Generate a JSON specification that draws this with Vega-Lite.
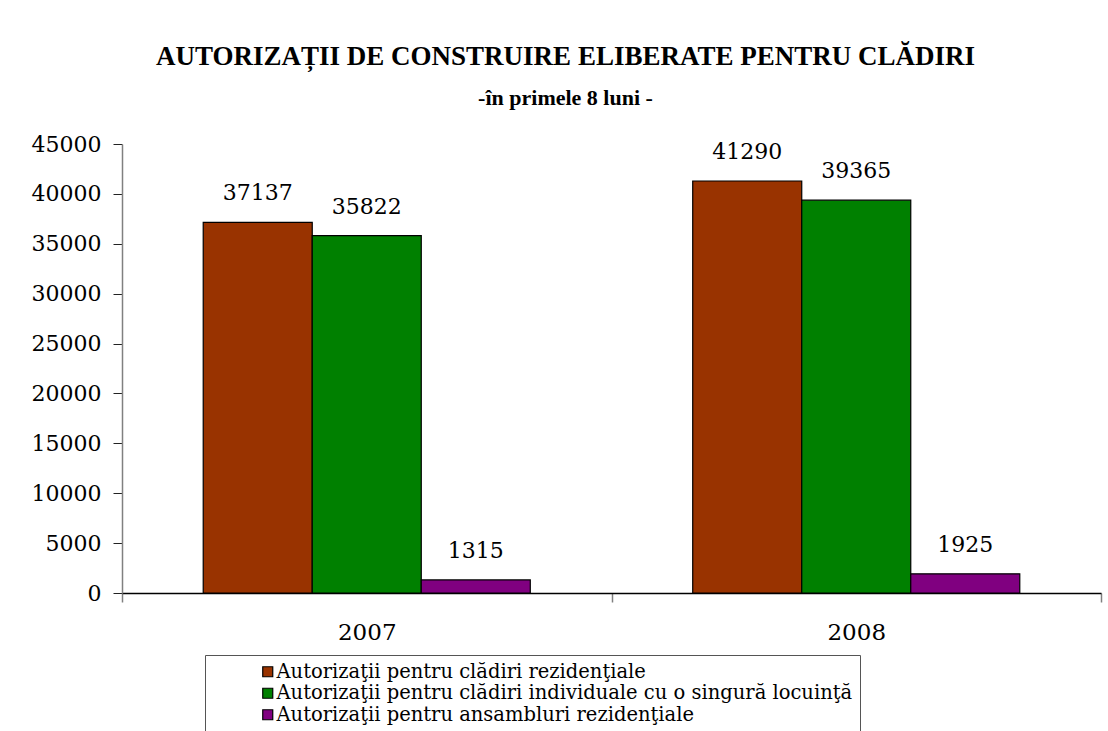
{
  "$schema": "https://vega.github.io/schema/vega-lite/v6.json",
  "width": 979,
  "height": 449,
  "autosize": {"type": "none"},
  "padding": {"left": 122, "top": 144, "right": 7, "bottom": 138},
  "background": "white",
  "config": {
    "view": {"stroke": null},
    "font": "DejaVu Serif"
  },
  "title": {
    "text": "AUTORIZAȚII DE CONSTRUIRE ELIBERATE PENTRU CLĂDIRI",
    "subtitle": "-în primele 8 luni -",
    "anchor": "middle",
    "frame": "group",
    "dx": -46,
    "offset": 23,
    "font": "Liberation Serif",
    "fontSize": 27,
    "fontWeight": "bold",
    "color": "black",
    "subtitleFont": "Liberation Serif",
    "subtitleFontSize": 22,
    "subtitleFontWeight": "bold",
    "subtitleColor": "black",
    "subtitlePadding": 17
  },
  "data": {
    "values": [
      {"an": "2007", "serie": "Autorizaţii pentru clădiri rezidenţiale", "valoare": 37137},
      {"an": "2007", "serie": "Autorizaţii pentru clădiri individuale cu o singură locuinţă", "valoare": 35822},
      {"an": "2007", "serie": "Autorizaţii pentru ansambluri rezidenţiale", "valoare": 1315},
      {"an": "2008", "serie": "Autorizaţii pentru clădiri rezidenţiale", "valoare": 41290},
      {"an": "2008", "serie": "Autorizaţii pentru clădiri individuale cu o singură locuinţă", "valoare": 39365},
      {"an": "2008", "serie": "Autorizaţii pentru ansambluri rezidenţiale", "valoare": 1925}
    ]
  },
  "encoding": {
    "x": {
      "field": "an", "type": "nominal",
      "scale": {"paddingInner": 0, "paddingOuter": 0},
      "axis": {
        "title": null, "labelAngle": 0, "tickBand": "extent",
        "domainColor": "black", "domainWidth": 1.5,
        "tickColor": "#808080", "tickSize": 9, "tickWidth": 1.5,
        "labelFont": "DejaVu Serif", "labelFontSize": 23, "labelColor": "black",
        "labelPadding": 19
      }
    },
    "xOffset": {
      "field": "serie", "type": "nominal",
      "sort": ["Autorizaţii pentru clădiri rezidenţiale", "Autorizaţii pentru clădiri individuale cu o singură locuinţă", "Autorizaţii pentru ansambluri rezidenţiale"],
      "scale": {"paddingInner": 0, "paddingOuter": 0.745}
    },
    "y": {
      "field": "valoare", "type": "quantitative",
      "scale": {"domain": [0, 45000], "nice": false},
      "axis": {
        "title": null, "values": [0,5000,10000,15000,20000,25000,30000,35000,40000,45000],
        "grid": false, "domainColor": "#808080", "domainWidth": 1.5,
        "tickColor": "#222222", "tickSize": 9, "tickWidth": 1,
        "labelFont": "DejaVu Serif", "labelFontSize": 22, "labelColor": "black",
        "labelPadding": 12, "format": "d"
      }
    }
  },
  "layer": [
    {
      "mark": {"type": "bar", "stroke": "black", "strokeWidth": 1.2},
      "encoding": {
        "color": {
          "field": "serie", "type": "nominal",
          "scale": {
            "domain": ["Autorizaţii pentru clădiri rezidenţiale", "Autorizaţii pentru clădiri individuale cu o singură locuinţă", "Autorizaţii pentru ansambluri rezidenţiale"],
            "range": ["#993300", "#008000", "#800080"]
          },
          "legend": {
            "title": null,
            "orient": "none",
            "legendX": 83,
            "legendY": 511,
            "direction": "vertical",
            "strokeColor": "#555555",
            "fillColor": "white",
            "padding": 7,
            "symbolType": "square",
            "symbolSize": 100,
            "symbolStrokeColor": "black",
            "symbolStrokeWidth": 1.2,
            "symbolOpacity": 1,
            "symbolOffset": 46,
            "labelOffset": -1,
            "labelFont": "DejaVu Serif",
            "labelFontSize": 19.5,
            "labelColor": "black",
            "labelLimit": 800,
            "rowPadding": 0.5
          }
        }
      }
    },
    {
      "mark": {"type": "text", "baseline": "middle", "dy": -29, "font": "DejaVu Serif", "fontSize": 22, "color": "black"},
      "encoding": {
        "text": {"field": "valoare", "type": "quantitative", "format": "d"}
      }
    }
  ]
}
